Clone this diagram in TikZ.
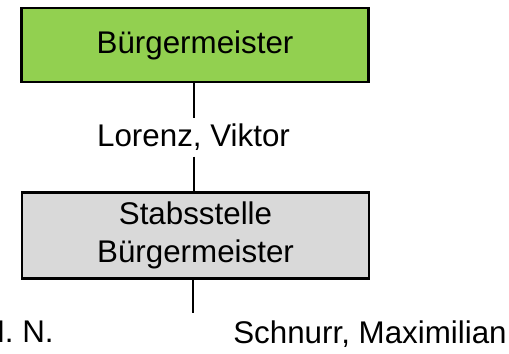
\documentclass[tikz,border=0pt]{standalone}
\usepackage{fontspec}
\setmainfont{Liberation Sans}
\definecolor{mayorgreen}{RGB}{146,208,80}
\definecolor{staffgray}{RGB}{217,217,217}
\tikzset{every picture/.style={line width=1.5pt}}
\tikzset{orgbox/.style={draw, line width=2pt, minimum width=260.25pt, inner sep=0pt, align=center},
  orgname/.style={inner sep=0pt}}

\begin{document}
\begin{tikzpicture}[x=0.75pt,y=0.75pt,yscale=-1,xscale=1]
\useasboundingbox (0,0) rectangle (509,353);
\fontsize{23.5}{28.5}\selectfont

% Boxes
\node [orgbox, fill=mayorgreen, minimum height=55.5pt] (mayor) at (195,45) {Bürgermeister};
\node [orgbox, fill=staffgray, minimum height=64.5pt] (staff) at (195.5,235.3) {Stabsstelle\\Bürgermeister};

% Text Node
\node [orgname, minimum height=27.75pt] (lorenz) at (193.5,137) {Lorenz, Viktor};
% Text Node
\node [anchor=base] (nn) at (18,342) {N. N.};
% Text Node
\node [anchor=base] (schnurr) at (370,343) {Schnurr, Maximilian};

\coordinate (staffend) at (193,313);

%Straight Lines
\draw (lorenz.north |- mayor.south) -- (lorenz.north) ;
%Straight Lines
\draw (lorenz.south) -- (lorenz.south |- staff.north) ;
%Straight Lines
\draw (staffend |- staff.south) -- (staffend) ;

\end{tikzpicture}
\end{document}
